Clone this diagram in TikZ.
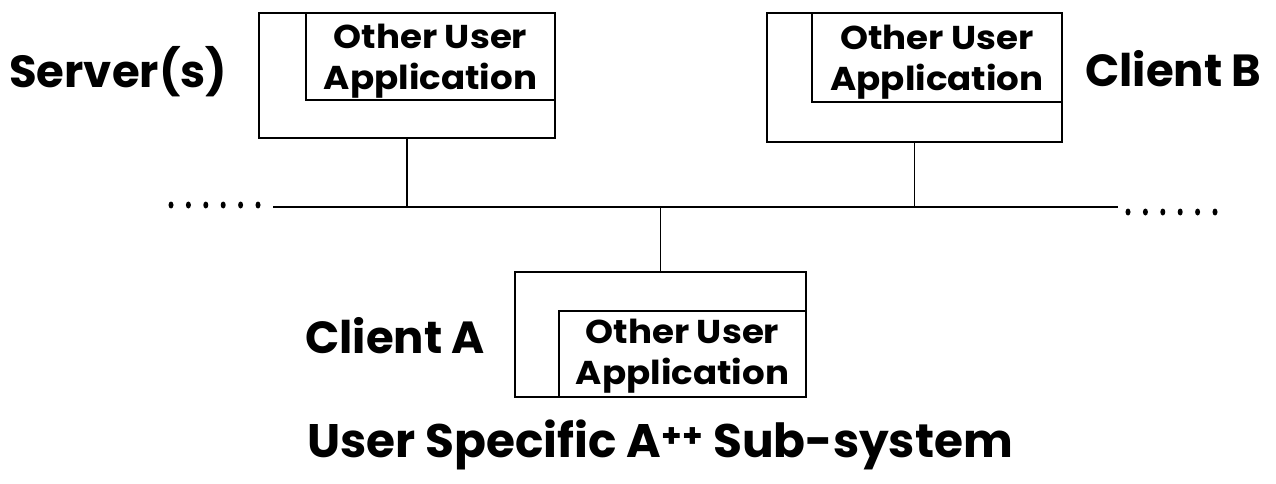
\documentclass[tikz,border=0pt]{standalone}
\usepackage{fontspec}
\usetikzlibrary{shapes.geometric}
\setmainfont{Poppins}
\newfontfamily\appfont{Poppins}[FakeStretch=1.08]
\begin{document}
\begin{tikzpicture}[x=1pt,y=-1pt,
  box/.style={draw, line width=1.8pt, inner sep=0pt, outer sep=0pt},
  apptext/.style={font=\appfont\fontsize{33}{41}\selectfont\bfseries, align=center, inner sep=0pt},
  biglabel/.style={font=\fontsize{45}{50}\selectfont\bfseries, anchor=base west, inner sep=0pt},
  link/.style={line width=1.4pt},
  bus/.style={line width=2.8pt},
  dot/.style={ellipse, fill, inner sep=0pt, minimum width=5pt, minimum height=7pt}]
\useasboundingbox (0,0) rectangle (1276,484);

% Server host and its application
\node[box, minimum width=296pt, minimum height=125pt] (srvOuter) at (407,75.5) {};
\node[box, minimum width=249pt, minimum height=87pt] (srvInner) at (430.5,56.5) {};
\node[apptext, yshift=-5pt] (srvApp) at (srvInner.center) {Other User\\Application};
\node[biglabel] (srvLabel) at (9,88) {Server(s)};

% Client B host and its application
\node[box, minimum width=295pt, minimum height=129pt] (cbOuter) at (914.5,77.5) {};
\node[box, minimum width=250pt, minimum height=89pt] (cbInner) at (937,57.5) {};
\node[apptext, yshift=-5pt] (cbApp) at (cbInner.center) {Other User\\Application};
\node[biglabel] (cbLabel) at (1085,87) {Client B};

% Client A host and its application
\node[box, minimum width=291pt, minimum height=125pt] (caOuter) at (660.5,334.5) {};
\node[box, minimum width=247pt, minimum height=86pt] (caInner) at (682.5,354) {};
\node[apptext, yshift=-2pt] (caApp) at (caInner.center) {Other User\\Application};
\node[biglabel] (caLabel) at (305,353) {Client A};

% Network bus
\coordinate (busL) at (273,207);
\coordinate (busR) at (1118,207);
\draw[bus] (busL) -- (busR);
\foreach \i in {0,...,5} {
  \node[dot] (dl\i) at (171+17.4*\i,205) {};
  \node[dot] (dr\i) at (1128+17.4*\i,212) {};
}

% Host attachments
\draw[link] (srvOuter.south) -- (srvOuter.south |- busL);
\draw[link] (cbOuter.south) -- (cbOuter.south |- busL);
\draw[link] (caOuter.north) -- (caOuter.north |- busL);

% Caption
\node[font=\fontsize{47}{52}\selectfont\bfseries, anchor=base west, inner sep=0pt] (caption) at (307,457) {User Specific A\textsuperscript{++}\ Sub-system};
\end{tikzpicture}
\end{document}
